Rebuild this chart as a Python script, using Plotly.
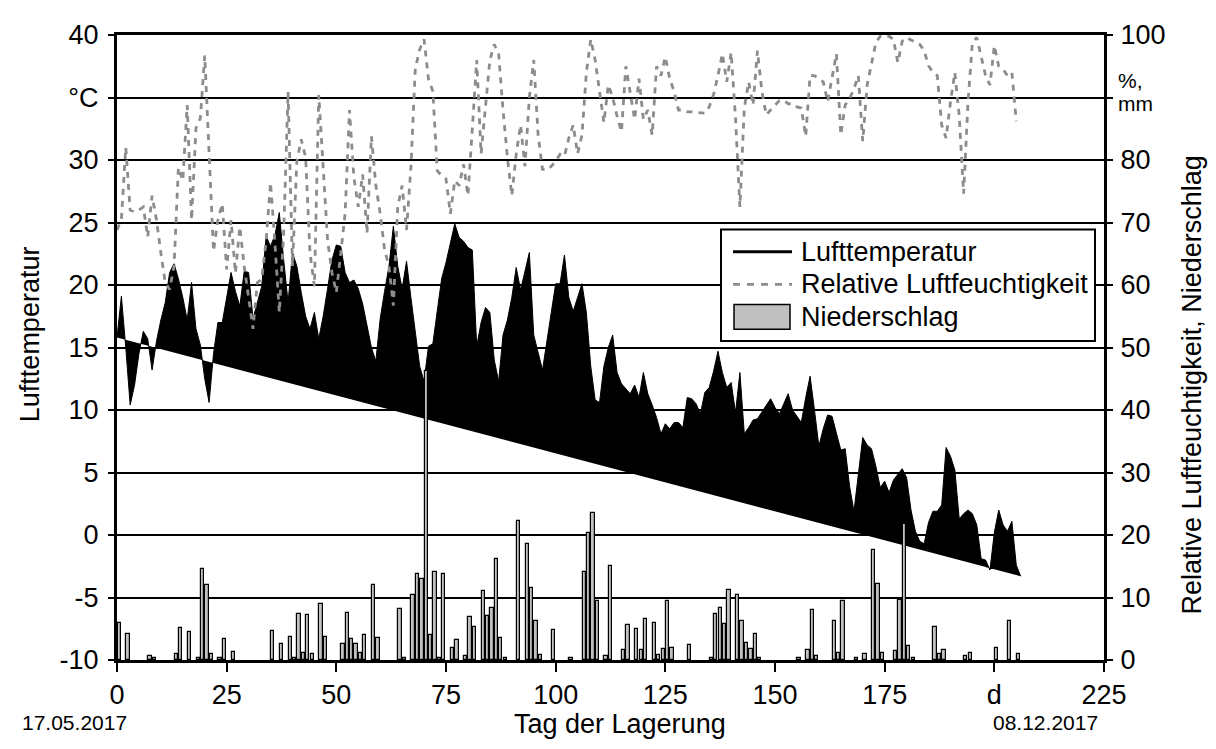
import plotly.graph_objects as go

# ---------------- data ----------------
temp_days = list(range(0, 207))
temp_c = [
    15.8, 19.1, 15.0, 10.4, 12.0, 14.5, 16.3, 15.7, 13.2, 15.5,
    17.2, 18.6, 21.0, 21.7, 20.5, 19.0, 17.2, 20.2, 16.5, 15.2,
    12.5, 10.6, 14.5, 17.0, 17.0, 19.0, 21.0, 19.5, 18.3, 21.1,
    21.0, 17.3, 18.5, 19.9, 23.9, 23.1, 24.0, 25.8, 22.0, 18.6,
    22.6, 21.5, 19.4, 17.5, 16.5, 17.8, 15.7, 17.5, 19.7, 22.0,
    23.2, 23.1, 21.0, 20.2, 20.4, 19.7, 18.5, 16.8, 15.0, 13.9,
    17.3, 19.5, 21.5, 24.7, 21.5, 19.7, 21.9, 19.0, 16.0, 13.5,
    12.3, 15.1, 15.3, 18.0, 20.5, 21.8, 23.5, 24.9, 23.8, 23.5,
    23.0, 22.8, 15.1, 17.0, 18.2, 17.8, 14.0, 12.3, 16.0, 17.2,
    19.0, 21.4, 19.6, 21.0, 22.6, 16.0, 14.5, 13.2, 15.5, 18.0,
    20.1, 20.1, 22.4, 19.0, 17.9, 19.0, 20.1, 17.8, 13.5, 10.8,
    10.6, 13.5, 15.0, 16.0, 13.0, 12.1, 11.7, 11.3, 12.0, 11.0,
    13.0, 11.3, 10.4, 9.4, 8.1, 8.9, 8.5, 9.0, 9.0, 8.6,
    11.0, 10.9, 10.5, 9.7, 11.4, 11.8, 13.1, 14.7, 13.0, 11.8,
    12.2, 9.8, 13.0, 8.1, 8.6, 9.2, 9.3, 9.8, 10.3, 10.9,
    10.2, 9.7, 10.5, 11.3, 10.0, 9.5, 9.0, 11.0, 12.7, 10.0,
    7.1, 8.5, 9.6, 9.5, 8.1, 6.8, 6.9, 3.9, 1.9, 5.0,
    7.8, 7.2, 6.9, 5.5, 3.8, 4.3, 3.4, 4.4, 4.9, 5.3,
    4.6, 2.0, 0.3, -0.5, -0.7, 1.0, 1.9, 1.9, 2.4, 7.0,
    6.3, 5.2, 1.3, 1.7, 2.0, 1.7, 0.8, -1.9, -2.0, -2.8,
    0.2, 2.0, 0.8, 0.3, 1.1, -2.4, -3.3,
]

hum_days = list(range(0, 206))
hum_pct = [
    68.8, 70.5, 82.0, 72.0, 71.7, 72.0, 72.5, 67.7, 74.3, 70.4,
    65.1, 60.4, 59.3, 63.0, 78.8, 76.7, 88.8, 70.4, 85.1, 86.7,
    96.7, 79.8, 65.4, 70.4, 73.0, 62.5, 70.4, 61.9, 69.3, 63.0,
    58.0, 53.0, 60.4, 60.9, 67.2, 76.4, 66.7, 55.6, 68.3, 90.9,
    63.0, 79.8, 83.3, 80.4, 65.1, 59.8, 90.4, 78.8, 67.2, 62.0,
    58.8, 65.0, 71.4, 88.0, 77.2, 72.5, 77.7, 68.3, 83.8, 76.0,
    71.4, 65.6, 63.0, 56.7, 72.5, 75.9, 68.8, 78.8, 94.6, 97.7,
    99.3, 93.0, 91.0, 78.3, 77.5, 77.0, 71.4, 76.7, 75.9, 79.3,
    74.3, 85.0, 96.0, 81.0, 88.0, 96.0, 98.5, 97.0, 88.0, 80.4,
    74.3, 80.9, 85.6, 79.0, 90.0, 96.0, 84.0, 78.5, 78.4, 79.0,
    79.8, 80.9, 80.6, 83.5, 85.6, 81.0, 84.0, 94.0, 99.3, 96.0,
    91.0, 86.0, 92.0, 90.0, 87.0, 84.5, 95.0, 91.0, 86.5, 93.0,
    86.5, 88.0, 84.0, 95.0, 93.5, 96.5, 93.0, 91.0, 88.0, 88.0,
    87.7, 87.7, 87.6, 87.5, 87.5, 88.5, 90.5, 93.5, 97.0, 92.5,
    97.2, 86.7, 72.5, 88.3, 92.5, 88.8, 97.5, 91.0, 87.2, 88.0,
    88.8, 89.5, 89.5, 89.0, 89.0, 88.5, 88.3, 83.8, 93.5, 93.5,
    93.0, 92.5, 89.3, 93.0, 97.0, 84.0, 88.8, 89.8, 91.4, 93.5,
    83.0, 92.0, 95.6, 98.8, 99.8, 99.8, 99.8, 99.3, 95.6, 99.0,
    99.6, 99.2, 98.8, 98.5, 97.5, 95.1, 94.0, 93.5, 85.6, 83.5,
    89.3, 94.0, 87.0, 74.6, 89.3, 98.8, 99.6, 96.7, 93.5, 92.0,
    98.3, 95.0, 94.5, 93.5, 94.0, 86.2,
]

rain_days = [
    0, 2, 7, 8, 13, 14, 16, 18, 19, 20, 21, 23, 24, 26,
    35, 37, 39, 40, 41, 42, 43, 44, 46, 47, 51, 52, 53, 54, 55, 56, 58, 59,
    64, 65, 67, 68, 69, 70, 71, 72, 73, 74, 76, 77, 79, 80, 81, 83, 84, 85,
    86, 87, 88, 91, 93, 94, 95, 96, 99, 103, 106, 107, 108, 109, 111, 112,
    115, 116, 118, 119, 120, 122, 123, 124, 125, 126, 130, 135, 136, 137,
    138, 139, 141, 142, 143, 144, 145, 146, 155, 157, 158, 159, 163, 164,
    165, 168, 170, 172, 173, 174, 177, 178, 179, 180, 181, 186, 187, 188,
    193, 194, 200, 203, 205,
]
rain_mm = [
    6.0, 4.1, 0.6, 0.3, 1.0, 5.1, 4.5, 0.4, 14.5, 12.0, 1.0, 0.4, 3.4, 1.3,
    4.6, 2.6, 3.7, 0.4, 7.4, 1.2, 7.2, 0.95, 8.9, 3.7, 2.5, 7.6, 3.3, 2.6, 1.2, 4.05, 12.0, 3.6,
    8.2, 0.3, 10.4, 13.8, 12.9, 46.3, 4.05, 14.05, 0.3, 13.8, 2.0, 3.2, 0.6, 6.9, 5.3, 11.0, 7.0, 8.4,
    16.2, 3.6, 0.3, 22.3, 18.5, 11.6, 6.3, 0.8, 4.8, 0.4, 14.05, 20.4, 23.6, 9.5, 0.6, 15.0,
    1.6, 5.6, 5.0, 1.6, 6.5, 6.0, 0.8, 1.8, 9.4, 2.0, 2.4, 0.3, 7.4, 8.4,
    5.8, 11.2, 10.4, 6.3, 2.8, 1.8, 4.2, 0.4, 0.4, 1.6, 8.0, 0.6, 6.3, 1.2,
    9.4, 0.4, 1.0, 17.6, 12.2, 1.2, 1.4, 9.6, 21.7, 2.2, 0.4, 5.3, 0.95, 1.6,
    0.6, 1.2, 2.0, 6.2, 1.0,
]

x_ticks = [0, 25, 50, 75, 100, 125, 150, 175, 200, 225]
x_ticktext = ["0", "25", "50", "75", "100", "125", "150", "175", "d", "225"]
y_ticks = [-10, -5, 0, 5, 10, 15, 20, 25, 30, 35, 40]
y_ticktext = ["-10", "-5", "0", "5", "10", "15", "20", "25", "30", "°C", "40"]
y2_ticks = [0, 10, 20, 30, 40, 50, 60, 70, 80, 90, 100]
y2_ticktext = ["0", "10", "20", "30", "40", "50", "60", "70", "80", "", "100"]

# ---------------- layout geometry ----------------
# The page body has an 8px margin, so the figure is drawn at (8, 8) in the window.
OFF = 8
W, H = 1200, 733
# wanted plot area on screen: x 117..1104, y 27..660
L, R, T, B = 117 - OFF, W - (1104 - OFF), 27 - OFF, H - (660 - OFF)
PW, PH = W - L - R, H - T - B


def px(x_screen):
    return (x_screen - OFF - L) / PW


def py(y_screen):
    return (H - B - (y_screen - OFF)) / PH


FONT = "Liberation Sans, Arial, sans-serif"
FS = 27
HUM_COLOR = "#8c8c8c"
RAIN_COLOR = "#c0c0c0"

fig = go.Figure()

fig.add_trace(go.Scatter(
    x=temp_days, y=temp_c, mode="lines", fill="toself", fillcolor="black",
    line=dict(color="black", width=1), showlegend=False, name="Lufttemperatur",
    yaxis="y", hoverinfo="skip",
))
fig.add_trace(go.Bar(
    x=rain_days, y=rain_mm, width=0.75, offset=0.125, yaxis="y2",
    marker=dict(color=RAIN_COLOR, line=dict(color="black", width=1.2)),
    showlegend=False, name="Niederschlag",
))
fig.add_trace(go.Scatter(
    x=hum_days, y=hum_pct, mode="lines", yaxis="y2",
    line=dict(color=HUM_COLOR, width=2.8, dash="6px,6px"),
    showlegend=False, name="Relative Luftfeuchtigkeit",
))

shapes = [
    # manual legend
    dict(type="rect", xref="paper", yref="paper", x0=px(721), x1=px(1095), y0=py(337), y1=py(224),
         line=dict(color="black", width=2), fillcolor="white", layer="above"),
    dict(type="line", xref="paper", yref="paper", x0=px(733), x1=px(792), y0=py(246.5), y1=py(246.5),
         line=dict(color="black", width=3), layer="above"),
    dict(type="line", xref="paper", yref="paper", x0=px(733), x1=px(792), y0=py(279.5), y1=py(279.5),
         line=dict(color=HUM_COLOR, width=2.8, dash="7px,7px"), layer="above"),
    dict(type="rect", xref="paper", yref="paper", x0=px(734), x1=px(790), y0=py(325), y1=py(300),
         line=dict(color="black", width=1.5), fillcolor=RAIN_COLOR, layer="above"),
]

ann_font = dict(family=FONT, size=FS, color="black")
small_font = dict(family=FONT, size=21, color="black")
annotations = [
    dict(text="Lufttemperatur", x=px(799), y=py(247), xanchor="left", yanchor="middle"),
    dict(text="Relative Luftfeuchtigkeit", x=px(799), y=py(279.5), xanchor="left", yanchor="middle"),
    dict(text="Niederschlag", x=px(799), y=py(312.5), xanchor="left", yanchor="middle"),
    dict(text="Lufttemperatur", x=px(30), y=py(330), textangle=-90, xanchor="center", yanchor="middle"),
    dict(text="Relative Luftfeuchtigkeit, Niederschlag", x=px(1192), y=py(382), textangle=-90,
         xanchor="center", yanchor="middle"),
    dict(text="Tag der Lagerung", x=px(620), y=py(725), xanchor="center", yanchor="middle"),
    dict(text="17.05.2017", x=px(74), y=py(723), xanchor="center", yanchor="middle", font=small_font),
    dict(text="08.12.2017", x=px(1045), y=py(723), xanchor="center", yanchor="middle", font=small_font),
    dict(text="%,", x=px(1116), y=py(73), xanchor="left", yanchor="middle", font=small_font),
    dict(text="mm", x=px(1116), y=py(96), xanchor="left", yanchor="middle", font=small_font),
]
for a in annotations:
    a.setdefault("font", ann_font)
    a.update(xref="paper", yref="paper", showarrow=False)

fig.update_layout(
    width=W, height=H, autosize=False,
    margin=dict(l=L, r=R, t=T, b=B, pad=0),
    paper_bgcolor="white", plot_bgcolor="white",
    font=dict(family=FONT, size=FS, color="black"),
    showlegend=False, bargap=0,
    xaxis=dict(range=[0, 225], tickvals=x_ticks, ticktext=x_ticktext, ticks="outside",
               ticklen=9, tickwidth=2, tickcolor="black", showline=True, linecolor="black",
               linewidth=3, mirror=True, showgrid=False, zeroline=False,
               tickfont=dict(family=FONT, size=FS)),
    yaxis=dict(range=[-10, 40], tickvals=y_ticks, ticktext=y_ticktext, ticks="outside",
               ticklen=6, tickwidth=2, tickcolor="black", showline=True, linecolor="black",
               linewidth=3, showgrid=True, gridcolor="black", gridwidth=1.5, zeroline=False,
               ticklabelstandoff=4, tickfont=dict(family=FONT, size=FS)),
    yaxis2=dict(range=[0, 100], overlaying="y", side="right", tickvals=y2_ticks,
                ticktext=y2_ticktext, ticks="outside", ticklen=6, tickwidth=2, tickcolor="black",
                showline=True, linecolor="black", linewidth=3, showgrid=False, zeroline=False,
                ticklabelstandoff=2, tickfont=dict(family=FONT, size=FS)),
    shapes=shapes,
    annotations=annotations,
)

fig.write_html("out.html")
